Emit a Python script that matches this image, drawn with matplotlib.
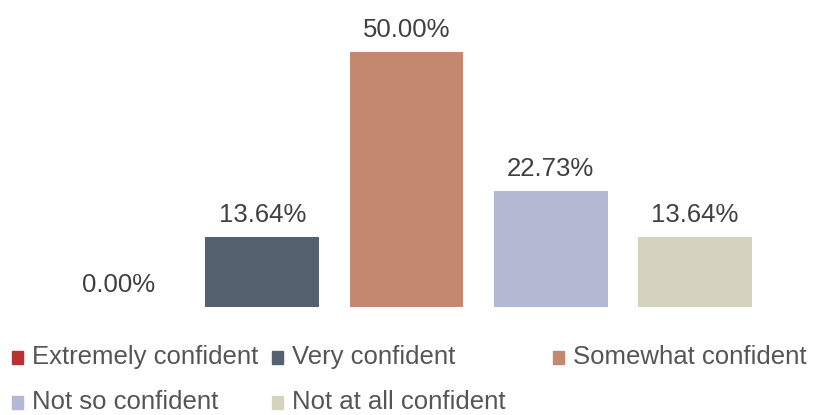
import matplotlib
matplotlib.use("Agg")
import matplotlib.pyplot as plt
from matplotlib.patches import Rectangle

categories = ["Extremely confident", "Very confident", "Somewhat confident",
              "Not so confident", "Not at all confident"]
values = [0.00, 13.64, 50.00, 22.73, 13.64]
colors = ["#b83232", "#56616f", "#c2896e", "#b3b8d3", "#d5d2be"]

plt.rcParams["font.family"] = ["Liberation Sans", "DejaVu Sans"]
label_color = "#404040"
legend_color = "#555555"

fig = plt.figure(figsize=(8.14, 4.15), dpi=100)
ax = fig.add_axes([46 / 814, 1 - 307 / 415, 721 / 814, 306 / 415])

x = range(len(categories))
ax.bar(x, values, width=0.79, color=colors)
for xi, v in zip(x, values):
    ax.text(xi, v + 3.0, f"{v:.2f}%", ha="center", va="baseline",
            fontsize=18.5, color=label_color)

ax.set_xlim(-0.5, len(categories) - 0.5)
ax.set_ylim(0, 60)
ax.axis("off")

# legend laid out in a grid of three columns
col_x = [12, 272, 553]
row_y = [357, 402]
for i, (name, c) in enumerate(zip(categories, colors)):
    cx = col_x[i % 3]
    cy = row_y[i // 3]
    fig.patches.append(Rectangle((cx / 814, 1 - (cy + 7) / 415), 11 / 814, 13 / 415,
                                 transform=fig.transFigure, color=c))
    fig.text((cx + 20) / 814, 1 - cy / 415, name, ha="left", va="center",
             fontsize=18.5, color=legend_color)

fig.savefig("out.png", dpi=100)
